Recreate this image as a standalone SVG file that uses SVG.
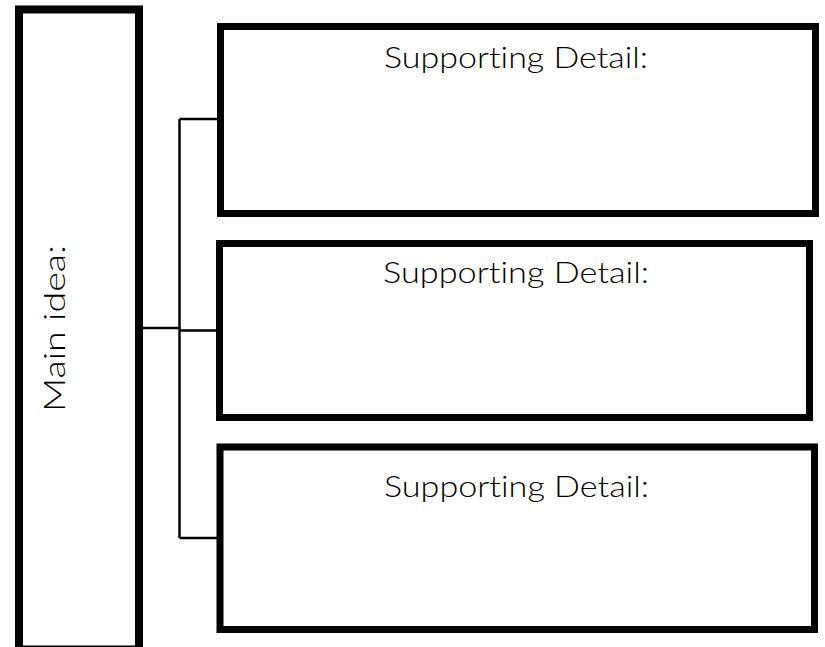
<svg xmlns="http://www.w3.org/2000/svg" width="825" height="647" viewBox="0 0 825 647">
  <style>
    .box { fill: #ffffff; stroke: #000000; stroke-width: 7; }
    .main { fill: #ffffff; stroke: #000000; stroke-width: 8; }
    .label { font-family: "Lato", "Open Sans", "Liberation Sans", sans-serif; font-weight: 300; font-size: 29px; fill: #000000; font-variant-ligatures: none; font-feature-settings: "liga" 0, "dlig" 0; }
    .wire { fill: none; stroke: #000000; stroke-width: 2.5; }
  </style>
  <rect width="825" height="647" fill="#ffffff"/>

  <!-- connectors: main idea to each supporting detail -->
  <g id="connectors">
    <path class="wire" d="M143 328 H179.5"/>
    <path class="wire" d="M179.5 119 V538"/>
    <path class="wire" d="M179.5 119 H218"/>
    <path class="wire" d="M179.5 330.5 H217"/>
    <path class="wire" d="M179.5 538 H217"/>
  </g>

  <g id="main-idea">
    <rect class="main" x="19" y="9.5" width="120" height="640"/>
    <text class="label" transform="translate(65 412) rotate(-90)" font-size="34" textLength="167" lengthAdjust="spacingAndGlyphs">Main idea:</text>
  </g>

  <g id="detail-1">
    <rect class="box" x="220.5" y="26.5" width="595" height="187"/>
    <text class="label" x="384" y="68" textLength="264" lengthAdjust="spacingAndGlyphs">Supporting Detail:</text>
  </g>

  <g id="detail-2">
    <rect class="box" x="219.5" y="243.5" width="590" height="174"/>
    <text class="label" x="383" y="283" textLength="266" lengthAdjust="spacingAndGlyphs">Supporting Detail:</text>
  </g>

  <g id="detail-3">
    <rect class="box" x="220" y="447" width="594.5" height="182.5"/>
    <text class="label" x="384" y="497" textLength="265" lengthAdjust="spacingAndGlyphs">Supporting Detail:</text>
  </g>
</svg>
